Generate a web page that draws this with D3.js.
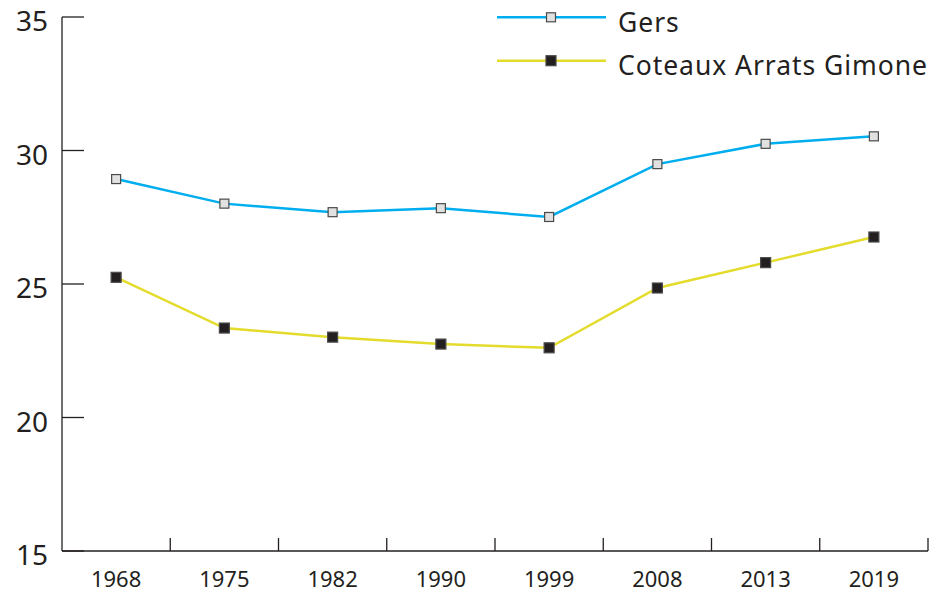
<!DOCTYPE html>
<html>
<head>
<meta charset="utf-8">
<script src="https://cdn.jsdelivr.net/npm/d3@7"></script>
<style>
  body { margin: 0; background: #fff; }
  svg { display: block; font-family: "Noto Sans", "Open Sans", sans-serif; }
</style>
</head>
<body>
<svg id="chart" width="941" height="592"></svg>
<script>
const years = ['1968', '1975', '1982', '1990', '1999', '2008', '2013', '2019'];
const gers = [28.93, 28.01, 27.69, 27.84, 27.51, 29.49, 30.25, 30.53];
const coteaux = [25.25, 23.35, 23.01, 22.75, 22.61, 24.85, 25.80, 26.76];
const yTicks = [15, 20, 25, 30, 35];
const seriesNames = ['Gers', 'Coteaux Arrats Gimone'];

const ink = '#231f20';
const series = [
    { name: seriesNames[0], values: gers, color: '#00aeef', fill: '#e1e1e1', size: 9 },
    { name: seriesNames[1], values: coteaux, color: '#e4dc2c', fill: ink, size: 10 }
];

const svg = d3.select('#chart');

const x = d3.scaleBand().domain(years).range([62, 928]).padding(0);
const y = d3.scaleLinear().domain([15, 35]).range([551, 17]);

// y axis: line + inward ticks
const gy = svg.append('g');
gy.append('line')
    .attr('x1', 62).attr('x2', 62)
    .attr('y1', y(35)).attr('y2', y(15))
    .attr('stroke', ink).attr('stroke-width', 1.3);
gy.selectAll('.yt')
    .data(yTicks)
    .enter()
    .append('line')
    .attr('x1', 62).attr('x2', 84)
    .attr('y1', d => y(d)).attr('y2', d => y(d))
    .attr('stroke', ink).attr('stroke-width', 1.3);
gy.selectAll('text')
    .data(yTicks)
    .enter()
    .append('text')
    .attr('x', 48)
    .attr('y', d => y(d) + 14)
    .attr('text-anchor', 'end')
    .attr('font-size', 28)
    .attr('fill', ink)
    .text(d => d);

// x axis: baseline + upward ticks at band edges
const gx = svg.append('g');
gx.append('line')
    .attr('x1', 62).attr('x2', 928)
    .attr('y1', y(15)).attr('y2', y(15))
    .attr('stroke', ink).attr('stroke-width', 1.3);
gx.selectAll('.xt')
    .data(years)
    .enter()
    .append('line')
    .attr('x1', d => x(d) + x.bandwidth()).attr('x2', d => x(d) + x.bandwidth())
    .attr('y1', y(15)).attr('y2', y(15) - 13)
    .attr('stroke', ink).attr('stroke-width', 1.3);
gx.selectAll('text')
    .data(years)
    .enter()
    .append('text')
    .attr('x', d => x(d) + x.bandwidth() / 2)
    .attr('y', 587)
    .attr('text-anchor', 'middle')
    .attr('font-size', 22)
    .attr('fill', ink)
    .text(d => d);

const line = d3.line()
    .x((d, i) => x(years[i]) + x.bandwidth() / 2)
    .y(d => y(d));

series.forEach(s => {
    const g = svg.append('g');
    g.append('path')
        .attr('d', line(s.values))
        .attr('fill', 'none')
        .attr('stroke', s.color)
        .attr('stroke-width', 2.5);
    g.selectAll('rect')
        .data(s.values)
        .enter()
        .append('rect')
        .attr('x', (d, i) => x(years[i]) + x.bandwidth() / 2 - s.size / 2)
        .attr('y', d => y(d) - s.size / 2)
        .attr('width', s.size).attr('height', s.size)
        .attr('fill', s.fill)
        .attr('stroke', '#4a4a4a')
        .attr('stroke-width', 1.2);
});

// legend
const legend = svg.append('g');
series.forEach((s, i) => {
    const ly = 17.3 + i * 43.4;
    legend.append('line')
        .attr('x1', 497).attr('x2', 606)
        .attr('y1', ly).attr('y2', ly)
        .attr('stroke', s.color).attr('stroke-width', 2.5);
    legend.append('rect')
        .attr('x', 551 - s.size / 2).attr('y', ly - s.size / 2)
        .attr('width', s.size).attr('height', s.size)
        .attr('fill', s.fill)
        .attr('stroke', '#4a4a4a').attr('stroke-width', 1.2);
    legend.append('text')
        .attr('x', 618).attr('y', ly + 14.3)
        .attr('font-size', 26.5)
        .attr('letter-spacing', 0.95)
        .attr('fill', ink)
        .text(s.name);
});
</script>
</body>
</html>
